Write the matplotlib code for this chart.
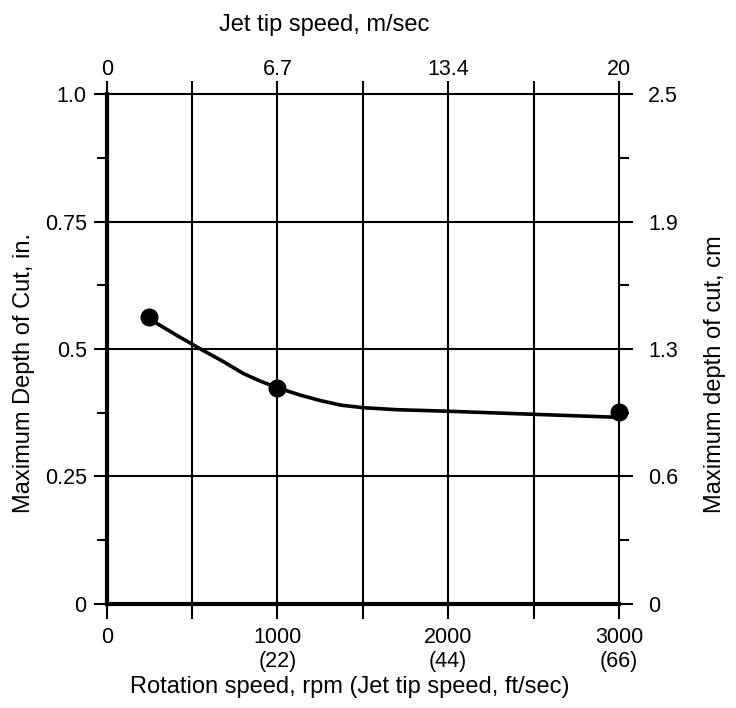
import matplotlib
matplotlib.use("Agg")
import matplotlib.pyplot as plt

plt.rcParams['font.family'] = ['Liberation Sans', 'DejaVu Sans']

# measured points (rpm, depth in.)
rpm = [250, 1000, 3000]
depth = [0.563, 0.424, 0.377]

# fitted curve
curve_rpm = [270, 420, 560, 680, 800, 900, 1000, 1130, 1250, 1370, 1500, 1700, 2000, 2500, 3000]
curve_depth = [0.555, 0.525, 0.498, 0.476, 0.452, 0.437, 0.424, 0.410, 0.399, 0.390, 0.385, 0.381, 0.378, 0.372, 0.366]

x_ticks = [0, 1000, 2000, 3000]
x_labels = ['0', '1000\n(22)', '2000\n(44)', '3000\n(66)']
top_labels = ['0', '6.7', '13.4', '20']
y_ticks = [0, 0.25, 0.5, 0.75, 1.0]
y_labels = ['0', '0.25', '0.5', '0.75', '1.0']
right_labels = ['0', '0.6', '1.3', '1.9', '2.5']

fs_tick = 15.5
fs_lab = 17
fig = plt.figure(figsize=(7.36, 7.08), dpi=100)
ax = fig.add_axes([0.145, 0.147, 0.696, 0.72])

# grid lines
for gx in [500, 1000, 1500, 2000, 2500]:
    ax.axvline(gx, color='black', lw=1.5, zorder=1)
for gy in [0.25, 0.5, 0.75]:
    ax.axhline(gy, color='black', lw=1.5, zorder=1)

ax.plot(curve_rpm, curve_depth, color='black', lw=2.6, zorder=3)
ax.plot(rpm, depth, 'o', color='black', ms=12, zorder=4, clip_on=False)

ax.set_xlim(0, 3000)
ax.set_ylim(0, 1.0)
ax.set_xticks(x_ticks)
ax.set_xticklabels(x_labels, linespacing=1.2, va='top')
ax.set_xticks([500, 1500, 2500], minor=True)
ax.set_yticks(y_ticks)
ax.set_yticklabels(y_labels)
ax.set_yticks([0.125, 0.375, 0.625, 0.875], minor=True)
ax.tick_params(axis='x', which='both', direction='out', length=10.8, width=1.5,
               labelsize=fs_tick, pad=6)
ax.tick_params(axis='y', which='major', direction='out', length=9.4, width=1.5,
               labelsize=fs_tick, pad=5)
ax.tick_params(axis='y', which='minor', direction='out', length=7.2, width=1.5)
ax.set_xlabel('Rotation speed, rpm (Jet tip speed, ft/sec)', fontsize=fs_lab, va='center')
ax.xaxis.set_label_coords(0.475, -0.163)
ax.set_ylabel('Maximum Depth of Cut, in.', fontsize=fs_lab, va='center')
ax.yaxis.set_label_coords(-0.162, 0.453)

ax.spines['left'].set_linewidth(3)
ax.spines['bottom'].set_linewidth(3)
ax.spines['top'].set_linewidth(1.5)
ax.spines['right'].set_linewidth(1.5)

# right axis (cm)
axr = ax.twinx()
axr.set_ylim(0, 1.0)
axr.set_yticks(y_ticks)
axr.set_yticklabels(right_labels)
axr.set_yticks([0.125, 0.375, 0.625, 0.875], minor=True)
axr.tick_params(axis='y', which='major', direction='out', length=10, width=1.5,
                labelsize=fs_tick, pad=11)
axr.tick_params(axis='y', which='minor', direction='out', length=7.2, width=1.5)
axr.set_ylabel('Maximum depth of cut, cm', fontsize=fs_lab, va='center')
axr.yaxis.set_label_coords(1.1875, 0.451)

# top axis (m/sec)
axt = ax.twiny()
axt.set_xlim(0, 3000)
axt.set_xticks(x_ticks)
axt.set_xticklabels(top_labels)
axt.set_xticks([500, 1500, 2500], minor=True)
axt.tick_params(axis='x', which='both', direction='out', length=9.4, width=1.5,
                labelsize=fs_tick, pad=0.7)
axt.set_xlabel('Jet tip speed, m/sec', fontsize=fs_lab, va='center')
axt.xaxis.set_label_coords(0.424, 1.135)

for a in (axr, axt):
    for s in a.spines.values():
        s.set_visible(False)

plt.savefig('out.png', dpi=100)
plt.close()
